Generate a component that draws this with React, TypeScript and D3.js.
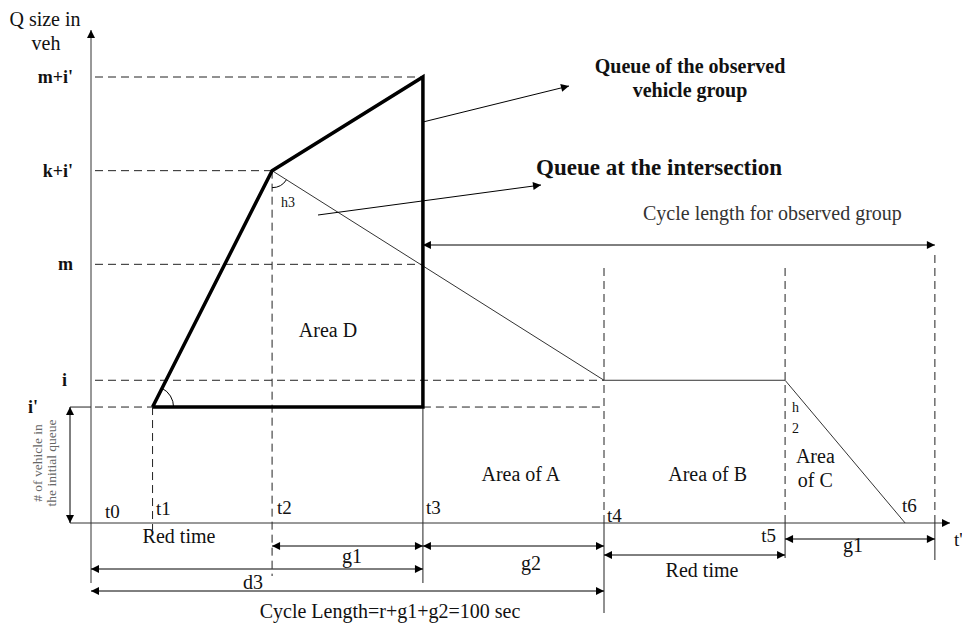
import { useEffect, useRef } from 'react';
import * as d3 from 'd3';

// time instants (seconds, cycle = 100)
const timeLabels = ['t0', 't1', 't2', 't3', 't4', 't5', 't6', "t'"];
const timeValues = [0, 12, 35.3, 64.7, 100, 135.3, 158.7, 164.5];

// queue levels (veh)
const levelLabels = ["m+i'", "k+i'", 'm', 'i', "i'"];
const levelValues = [100, 79, 58, 32, 26];

// observed vehicle group queue (thick polygon): [time, level]
const observedQueue: [number, number][] = [
    [12, 26],
    [35.3, 79],
    [64.7, 100],
    [64.7, 26],
    [12, 26],
];

// queue at the intersection (thin line)
const intersectionQueue: [number, number][] = [
    [35.3, 79],
    [100, 32],
    [135.3, 32],
    [158.7, 0],
];

const areaLabels = [
    { lines: ['Area D'], t: 46.2, q: 41.6 },
    { lines: ['Area of A'], t: 83.8, q: 9.4 },
    { lines: ['Area of B'], t: 120.2, q: 9.4 },
    { lines: ['Area', 'of C'], t: 141.2, q: 8.1 },
];

const W = 962;
const H = 624;
const FONT = '"Liberation Serif", "Times New Roman", serif';
const INK = '#222';

const App = () => {
    const svgRef = useRef<SVGSVGElement>(null);

    useEffect(() => {
        const svg = d3.select(svgRef.current);
        svg.selectAll('*').remove();

        const x = d3.scaleLinear().domain([0, 100]).range([91, 604]);
        const y = d3.scaleLinear().domain([0, 100]).range([523, 77]);

        const [t0, t1, t2, t3, t4, t5, , t7] = timeValues;
        const [mi, ki, m, iq, ip] = levelValues;

        const defs = svg.append('defs');
        const addMarker = (id: string, orient: string) => {
            defs.append('marker')
                .attr('id', id)
                .attr('viewBox', '0 0 10 10')
                .attr('refX', 10)
                .attr('refY', 5)
                .attr('markerWidth', 11)
                .attr('markerHeight', 8)
                .attr('markerUnits', 'userSpaceOnUse')
                .attr('orient', orient)
                .append('path')
                .attr('d', 'M0,0L10,5L0,10Z')
                .attr('fill', '#000');
        };
        addMarker('arr', 'auto');
        addMarker('arr2', 'auto-start-reverse');

        const line = (x1, y1, x2, y2, opts: any = {}) =>
            svg.append('line')
                .attr('x1', x1)
                .attr('y1', y1)
                .attr('x2', x2)
                .attr('y2', y2)
                .attr('stroke', opts.color || INK)
                .attr('stroke-width', opts.width || 1)
                .attr('stroke-dasharray', opts.dash ? '8,5' : null)
                .attr('marker-end', opts.end ? 'url(#arr)' : null)
                .attr('marker-start', opts.start ? 'url(#arr2)' : null);

        const text = (tx, ty, s, opts: any = {}) =>
            svg.append('text')
                .attr('x', tx)
                .attr('y', ty)
                .attr('font-family', FONT)
                .attr('font-size', opts.size || 20)
                .attr('font-weight', opts.bold ? 'bold' : 'normal')
                .attr('text-anchor', opts.anchor || 'start')
                .attr('fill', opts.color || '#111')
                .text(s);

        // dashed guide lines for levels
        line(95, y(mi), x(t3), y(mi), { dash: true });
        line(95, y(ki), x(t2), y(ki), { dash: true });
        line(95, y(m), x(t3), y(m), { dash: true });
        line(95, y(iq), x(t4), y(iq), { dash: true });
        line(70, y(ip), x(t0), y(ip));
        line(95, y(ip), x(t1), y(ip), { dash: true });
        line(x(t3), y(ip), x(t4), y(ip), { dash: true });

        // vertical time guides
        line(x(t1), y(ip), x(t1), 530, { dash: true });
        line(x(t2), y(ki), x(t2), 576, { dash: true });
        line(x(t3), y(ip), x(t3), 583);
        line(x(t4), 268, x(t4), y(0), { dash: true });
        line(x(t4), y(0), x(t4), 613);
        line(x(t5), 268, x(t5), y(0), { dash: true });
        line(x(t5), y(0), x(t5), 558);
        line(x(t7), 255, x(t7), y(0), { dash: true });
        line(x(t7), y(0), x(t7), 560);

        // axes
        line(x(0), 583, x(0), 30, { end: true, color: '#333' });
        line(70, y(0), 950, y(0), { end: true, color: '#333' });

        // initial queue double arrow
        line(70, y(ip), 70, y(0), { start: true, end: true, color: '#000' });

        // queue curves
        const path = d3.line().x((d) => x(d[0])).y((d) => y(d[1]));
        svg.append('path')
            .attr('d', path(intersectionQueue))
            .attr('fill', 'none')
            .attr('stroke', '#333')
            .attr('stroke-width', 1);
        svg.append('path')
            .attr('d', path(observedQueue))
            .attr('fill', 'none')
            .attr('stroke', '#000')
            .attr('stroke-width', 3.5)
            .attr('stroke-linejoin', 'miter');

        // angle arcs
        const arcAt = (px, py, a1, a2, r) => {
            const sx = px + r * Math.cos(a1);
            const sy = py + r * Math.sin(a1);
            const ex = px + r * Math.cos(a2);
            const ey = py + r * Math.sin(a2);
            return `M${sx},${sy}A${r},${r} 0 0 ${a2 > a1 ? 1 : 0} ${ex},${ey}`;
        };
        const up = Math.atan2(y(ki) - y(ip), x(t2) - x(t1));
        svg.append('path')
            .attr('d', arcAt(x(t1), y(ip), 0, up, 21))
            .attr('fill', 'none')
            .attr('stroke', '#000');
        const down = Math.atan2(y(iq) - y(ki), x(t4) - x(t2));
        svg.append('path')
            .attr('d', arcAt(x(t2), y(ki), Math.PI / 2, down, 17))
            .attr('fill', 'none')
            .attr('stroke', '#000');

        // dimension arrows below the time axis
        line(x(t2), 546, x(t3), 546, { start: true, end: true, color: '#000' });
        line(x(t3), 546, x(t4), 546, { start: true, end: true, color: '#000' });
        line(x(t4), 555, x(t5), 555, { start: true, end: true, color: '#000' });
        line(x(t5), 539, x(t7), 539, { start: true, end: true, color: '#000' });
        line(x(t0), 569, x(t3), 569, { start: true, end: true, color: '#000' });
        line(x(t0), 591, x(t4), 591, { start: true, end: true, color: '#000' });
        line(x(t3), 245, x(t7), 245, { start: true, end: true, color: '#000' });

        // pointer arrows to the titles
        line(x(t3), 122, 569, 86, { end: true, color: '#000' });
        line(318, 215, 541, 185, { end: true, color: '#000' });

        // level labels
        const levelX = [73, 73, 73, 67, 38];
        levelLabels.forEach((l, k) => {
            text(levelX[k], y(levelValues[k]) + 6, l, { bold: true, size: 18, anchor: 'end' });
        });

        // time labels
        const timePos = [
            [105, 518],
            [156, 515],
            [277, 514],
            [426, 514],
            [607, 522],
            [776, 542],
            [902, 512],
            [954, 546],
        ];
        timeLabels.forEach((l, k) => {
            text(timePos[k][0], timePos[k][1], l, { size: 19, anchor: k === 5 ? 'end' : 'start' });
        });

        // axis title
        text(45, 26, 'Q size in', { anchor: 'middle' });
        text(46, 50, 'veh', { anchor: 'middle' });

        // rotated initial queue label
        const rot = svg.append('text')
            .attr('transform', 'translate(46,463) rotate(-90)')
            .attr('font-family', FONT)
            .attr('font-size', 13.5)
            .attr('fill', '#666')
            .attr('text-anchor', 'middle');
        rot.append('tspan').attr('x', 0).attr('y', -4).text('# of vehicle in');
        rot.append('tspan').attr('x', 0).attr('y', 10).text('the initial queue');

        // area labels
        areaLabels.forEach((a) => {
            a.lines.forEach((l, k) => {
                text(x(a.t), y(a.q) - (a.lines.length - 1 - k) * 24, l, { anchor: 'middle' });
            });
        });

        // angle labels
        text(x(t2) + 9, 207, 'h3', { size: 14 });
        text(x(t5) + 7, 412, 'h', { size: 14 });
        text(x(t5) + 7, 433, '2', { size: 14 });

        // dimension labels
        text(179, 543, 'Red time', { anchor: 'middle' });
        text(352, 563, 'g1', { anchor: 'middle' });
        text(531, 570, 'g2', { anchor: 'middle' });
        text(253, 589, 'd3', { anchor: 'middle' });
        text(702, 577, 'Red time', { anchor: 'middle' });
        text(853, 552, 'g1', { anchor: 'middle' });
        text(390, 618, 'Cycle Length=r+g1+g2=100 sec', { anchor: 'middle' });

        // titles
        text(690, 73, 'Queue of the observed', { bold: true, anchor: 'middle' });
        text(690, 97, 'vehicle group', { bold: true, anchor: 'middle' });
        text(659, 175, 'Queue at the intersection', { size: 23, bold: true, anchor: 'middle' });
        text(643, 220, 'Cycle length for observed group', { color: '#333' });
    }, []);

    return (
        <div style={{ position: 'absolute', left: 0, top: 0 }}>
            <svg ref={svgRef} width={W} height={H} style={{ display: 'block', background: '#fff' }}></svg>
        </div>
    );
};

export default App;
